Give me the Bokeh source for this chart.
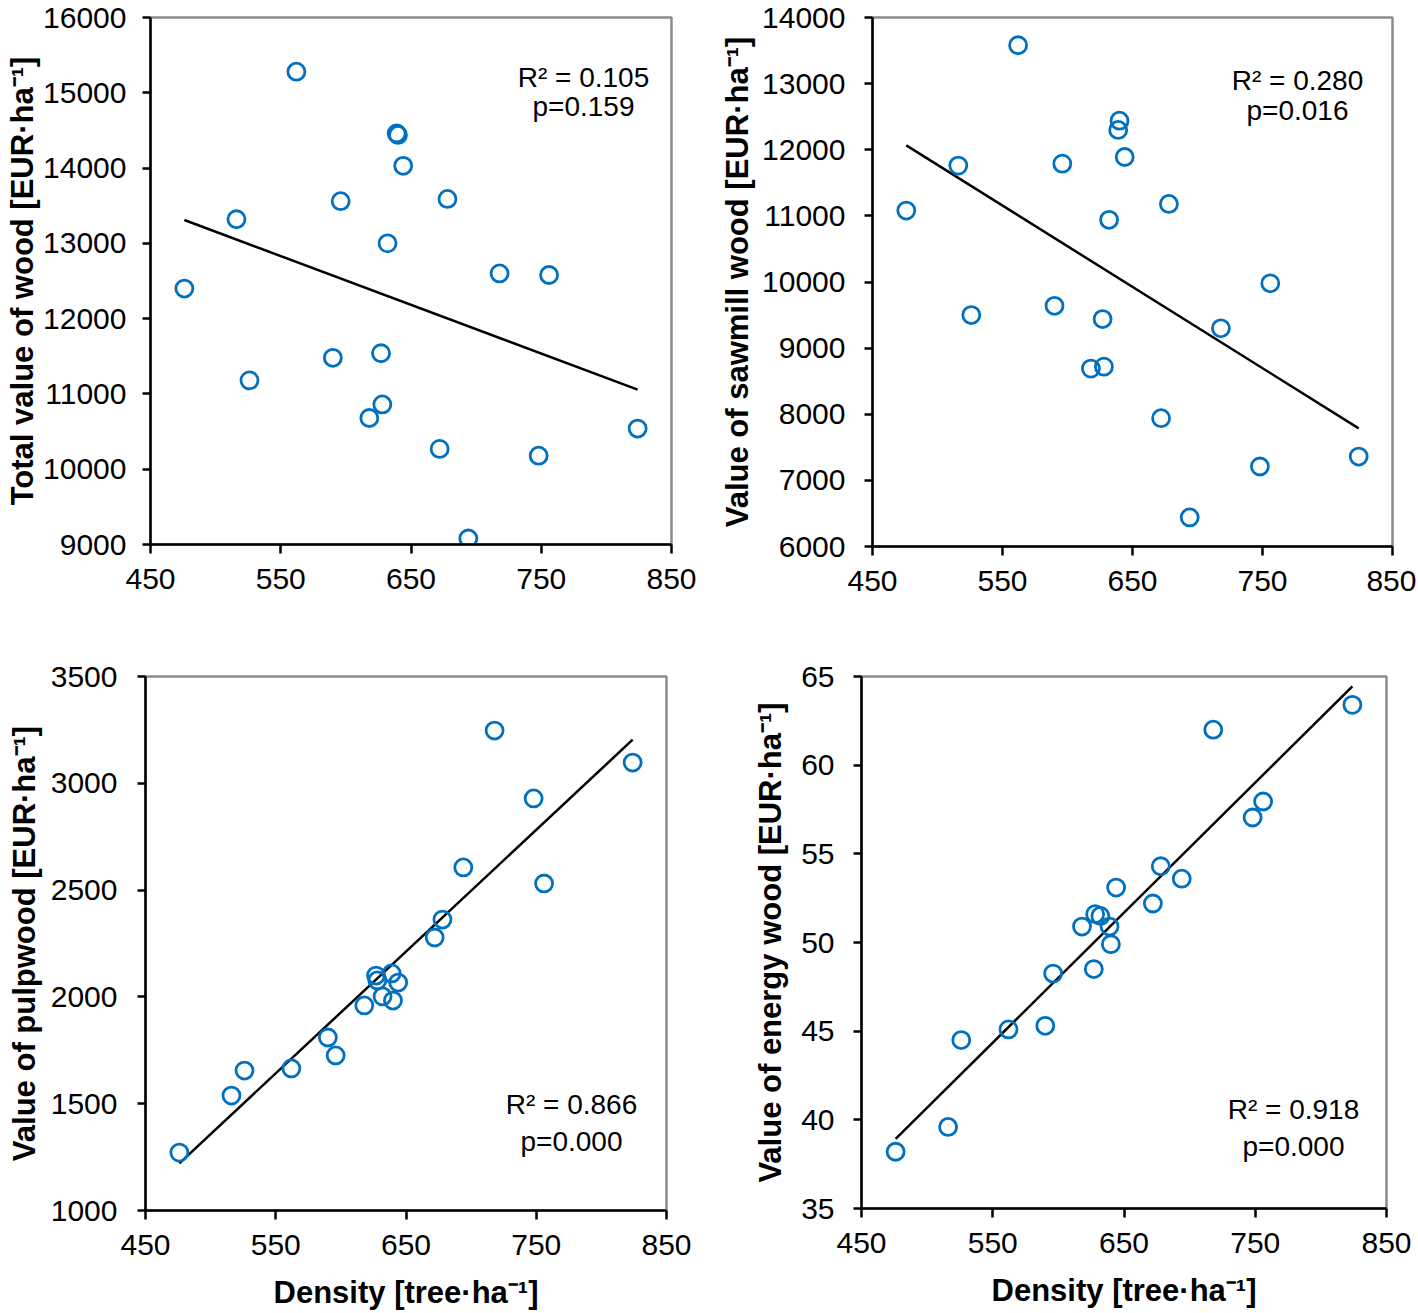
import numpy as np
from bokeh.plotting import figure
from bokeh.models import Range1d, FixedTicker, Label
from bokeh.layouts import column, row
from bokeh.embed import file_html
from bokeh.resources import INLINE

# ---- data ----
density = [476, 516, 526, 562, 590, 596, 618, 627, 628, 632, 639, 640, 644, 672, 678, 694, 718, 748, 756, 824]
total_value = [12400, 13320, 11180, 15280, 11480, 13560, 10680, 11540, 10860, 13000,
               14460, 14440, 14030, 10270, 13590, 9080, 12600, 10180, 12580, 10540]
sawmill_value = [11080, 11760, 9500, 13580, 9640, 11790, 8690, 9440, 8720, 10940,
                 12300, 12440, 11890, 7940, 11180, 6440, 9300, 7210, 9980, 7360]
pulp_value = [1271, 1538, 1655, 1665, 1810, 1726, 1960, 2100, 2077, 2002,
              2110, 1983, 2067, 2278, 2362, 2606, 3247, 2929, 2531, 3097]
energy_value = [38.2, 39.6, 44.5, 45.1, 45.3, 48.25, 50.9, 48.5, 51.6, 51.5,
                50.9, 49.9, 53.1, 52.2, 54.3, 53.6, 62.0, 57.05, 57.95, 63.4]

x_ticks = [450, 550, 650, 750, 850]
y_ticks_total = [9000, 10000, 11000, 12000, 13000, 14000, 15000, 16000]
y_ticks_sawmill = [6000, 7000, 8000, 9000, 10000, 11000, 12000, 13000, 14000]
y_ticks_pulp = [1000, 1500, 2000, 2500, 3000, 3500]
y_ticks_energy = [35, 40, 45, 50, 55, 60, 65]

stats_total = ["R\u00b2 = 0.105", "p=0.159"]
stats_sawmill = ["R\u00b2 = 0.280", "p=0.016"]
stats_pulp = ["R\u00b2 = 0.866", "p=0.000"]
stats_energy = ["R\u00b2 = 0.918", "p=0.000"]

ylab_total = "Total value of wood [EUR\u00b7ha\u207b\u00b9]"
ylab_sawmill = "Value of sawmill wood [EUR\u00b7ha\u207b\u00b9]"
ylab_pulp = "Value of pulpwood [EUR\u00b7ha\u207b\u00b9]"
ylab_energy = "Value of energy wood [EUR\u00b7ha\u207b\u00b9]"
xlab = "Density [tree\u00b7ha\u207b\u00b9]"

BLUE = "#0070C0"
FONT = "Liberation Sans"


def make_panel(yvals, yticks, ylabel, stats, stat_x, stat_y,
               fw, fh, left, right, top, bottom, tick_std, lab_std,
               xlabel=None):
    p = figure(frame_width=fw, frame_height=fh,
               min_border_left=left, min_border_right=right,
               min_border_top=top, min_border_bottom=bottom,
               x_range=Range1d(x_ticks[0], x_ticks[-1]),
               y_range=Range1d(yticks[0], yticks[-1]),
               output_backend="svg", toolbar_location=None,
               background_fill_color="white", border_fill_color="white")
    p.grid.visible = False
    p.outline_line_color = "#8c8c8c"
    p.outline_line_width = 2.5

    for ax, ticks in ((p.xaxis[0], x_ticks), (p.yaxis[0], yticks)):
        ax.ticker = FixedTicker(ticks=ticks)
        ax.axis_line_color = "black"
        ax.axis_line_width = 2.5
        ax.major_tick_line_color = "black"
        ax.major_tick_line_width = 2.5
        ax.major_tick_in = 0
        ax.major_tick_out = 8
        ax.minor_tick_line_color = None
        ax.major_label_text_font = FONT
        ax.major_label_text_font_size = "30px"
        ax.major_label_text_color = "black"
        ax.axis_label_text_font = FONT
        ax.axis_label_text_font_style = "bold"
        ax.axis_label_text_font_size = "31px"
        ax.axis_label_text_color = "black"
    p.xaxis[0].major_tick_out = 9
    p.xaxis[0].major_label_standoff = 15
    p.yaxis[0].major_label_standoff = tick_std
    p.yaxis[0].axis_label = ylabel
    p.yaxis[0].axis_label_standoff = lab_std
    if xlabel:
        p.xaxis[0].axis_label = xlabel
        p.xaxis[0].axis_label_standoff = 17

    # regression line from the data
    xs = np.array(density, dtype=float)
    ys = np.array(yvals, dtype=float)
    k, b = np.polyfit(xs, ys, 1)
    xl = np.array([xs.min(), xs.max()])
    p.line(xl, k * xl + b, line_color="black", line_width=2.5)

    p.scatter(density, yvals, marker="circle", size=17,
              fill_color=None, line_color=BLUE, line_width=2.8)

    for txt, yy in zip(stats, stat_y):
        p.add_layout(Label(x=stat_x, y=yy, x_units="screen", y_units="screen",
                           text=txt, text_align="center", text_baseline="alphabetic",
                           text_font=FONT, text_font_size="28px", text_color="black"))
    return p


# frames: P1 150..671 x 17..544 ; P2 872..1392 x 17..546
p1 = make_panel(total_value, y_ticks_total, ylab_total, stats_total, 433, [467, 438],
                521, 527, 150, 29, 17, 106, 16, 0)
p2 = make_panel(sawmill_value, y_ticks_sawmill, ylab_sawmill, stats_sawmill, 425, [466, 436],
                520, 529, 172, 24, 17, 104, 19, 4)
# frames: P3 145..666 x 673..1207 ; P4 861..1386 x 676..1208
p3 = make_panel(pulp_value, y_ticks_pulp, ylab_pulp, stats_pulp, 426, [106, 69],
                521, 534, 145, 34, 23, 105, 20, 6, xlabel=xlab)
p4 = make_panel(energy_value, y_ticks_energy, ylab_energy, stats_energy, 432, [99, 62],
                525, 532, 161, 30, 26, 104, 19, 10, xlabel=xlab)

layout = column(row(p1, p2), row(p3, p4))
open("out.html", "w").write(file_html(layout, INLINE))
